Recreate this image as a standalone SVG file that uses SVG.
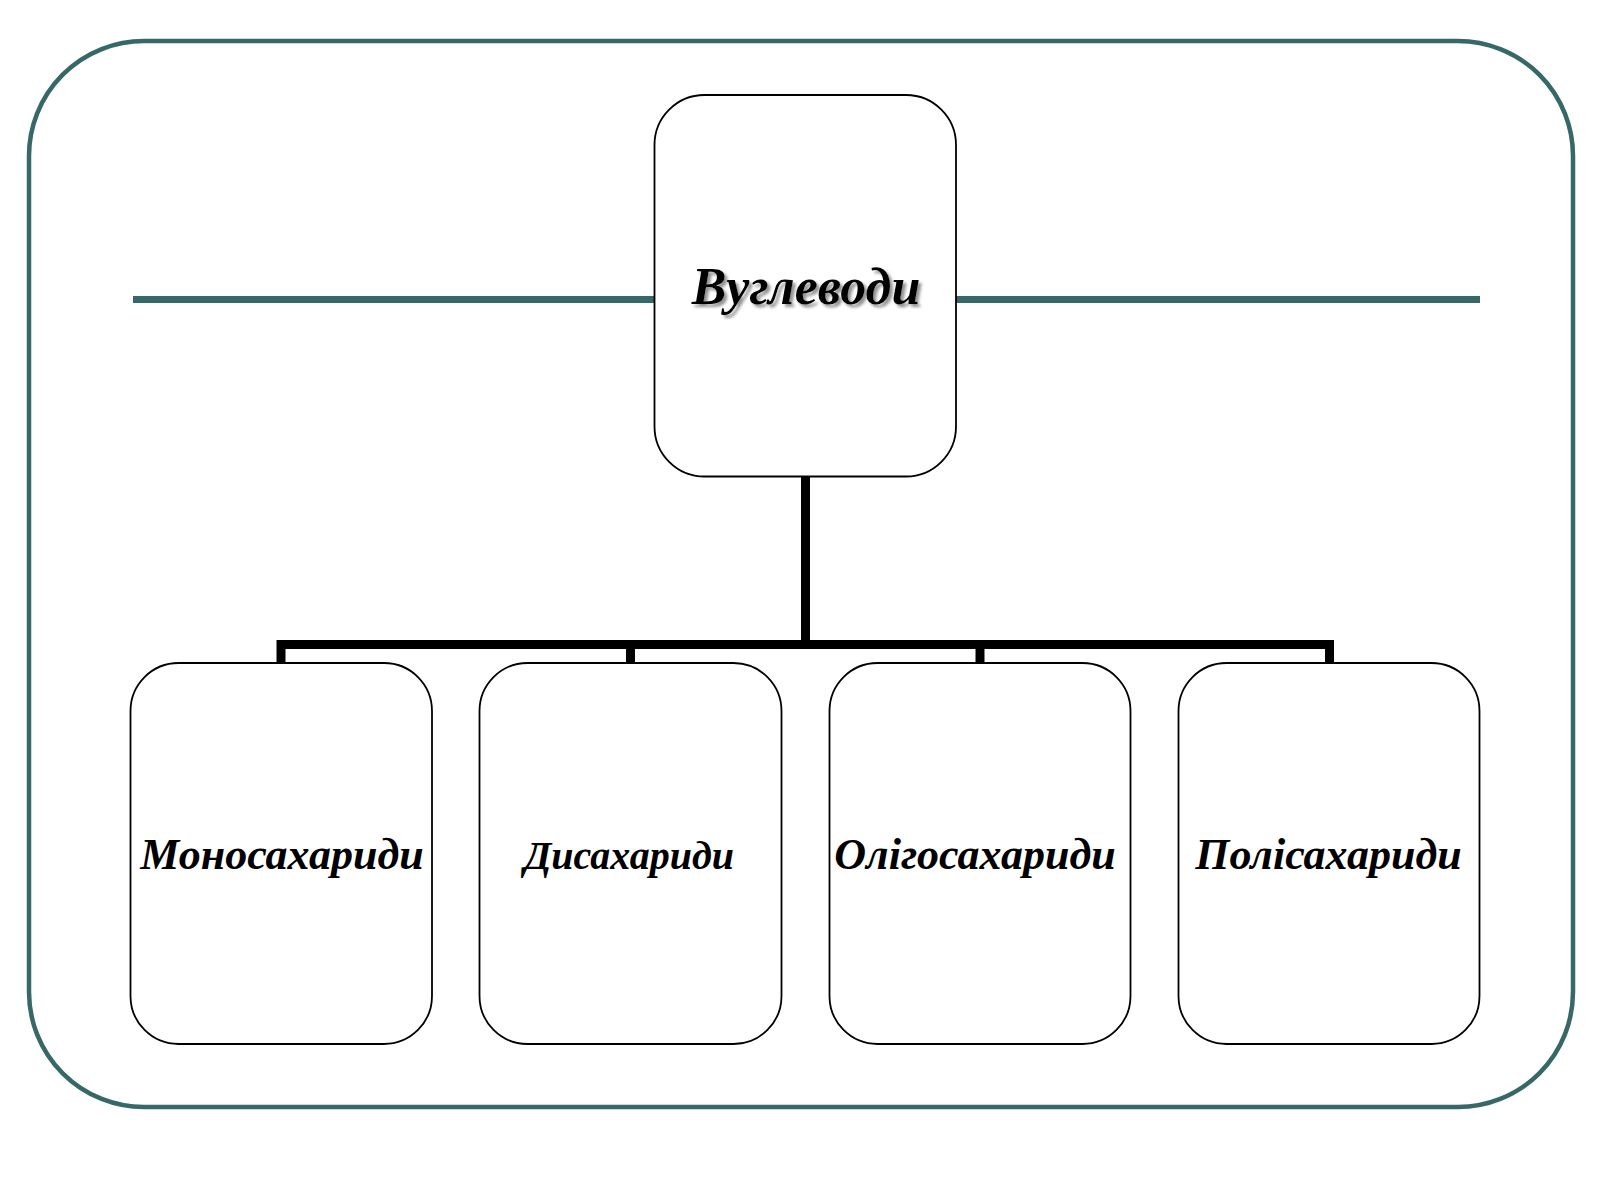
<svg xmlns="http://www.w3.org/2000/svg" width="1600" height="1200" viewBox="0 0 1600 1200">
<style>
.frame{fill:none;stroke:#376868;stroke-width:4.5}
.rule{stroke:#376868;stroke-width:7;fill:none}
.box{fill:#fff;stroke:#000;stroke-width:1.8}
.conn{fill:none;stroke:#000;stroke-width:9;stroke-linejoin:miter;stroke-linecap:butt}
.lbl{font-family:"Liberation Serif","Times New Roman",serif;font-weight:bold;font-style:italic;fill:#000;text-anchor:middle}
</style>
<defs>
<filter id="shadow" x="-10%" y="-30%" width="130%" height="170%">
<feDropShadow dx="3" dy="3" stdDeviation="1.8" flood-color="#777" flood-opacity="0.8"/>
</filter>
</defs>
<rect width="1600" height="1200" fill="#fff"/>
<rect class="frame" x="29" y="41" width="1544" height="1066" rx="115" ry="115"/>
<g id="rules">
<line class="rule" x1="133" y1="299.5" x2="656" y2="299.5"/>
<line class="rule" x1="955" y1="299.5" x2="1480" y2="299.5"/>
</g>
<g id="connectors">
<path class="conn" d="M805.5 477 V644.5"/>
<path class="conn" d="M281 663 V644.5 H1329.5 V663"/>
<path class="conn" d="M630.5 644.5 V663"/>
<path class="conn" d="M980 644.5 V663"/>
</g>
<g id="node-root">
<rect class="box" x="654.5" y="95" width="301.5" height="381.5" rx="50" ry="50"/>
<text class="lbl" x="806" y="304" font-size="52" filter="url(#shadow)">Вуглеводи</text>
</g>
<g id="node-mono">
<rect class="box" x="130.5" y="663" width="301.5" height="381" rx="48" ry="48"/>
<text class="lbl" x="282" y="869" font-size="44">Моносахариди</text>
</g>
<g id="node-di">
<rect class="box" x="479.5" y="663" width="302" height="381" rx="48" ry="48"/>
<text class="lbl" x="629" y="869" font-size="40">Дисахариди</text>
</g>
<g id="node-oligo">
<rect class="box" x="829.5" y="663" width="301" height="381" rx="48" ry="48"/>
<text class="lbl" x="975" y="869" font-size="44">Олігосахариди</text>
</g>
<g id="node-poly">
<rect class="box" x="1178.5" y="663" width="301" height="381" rx="48" ry="48"/>
<text class="lbl" x="1328.5" y="869" font-size="44">Полісахариди</text>
</g>
</svg>
